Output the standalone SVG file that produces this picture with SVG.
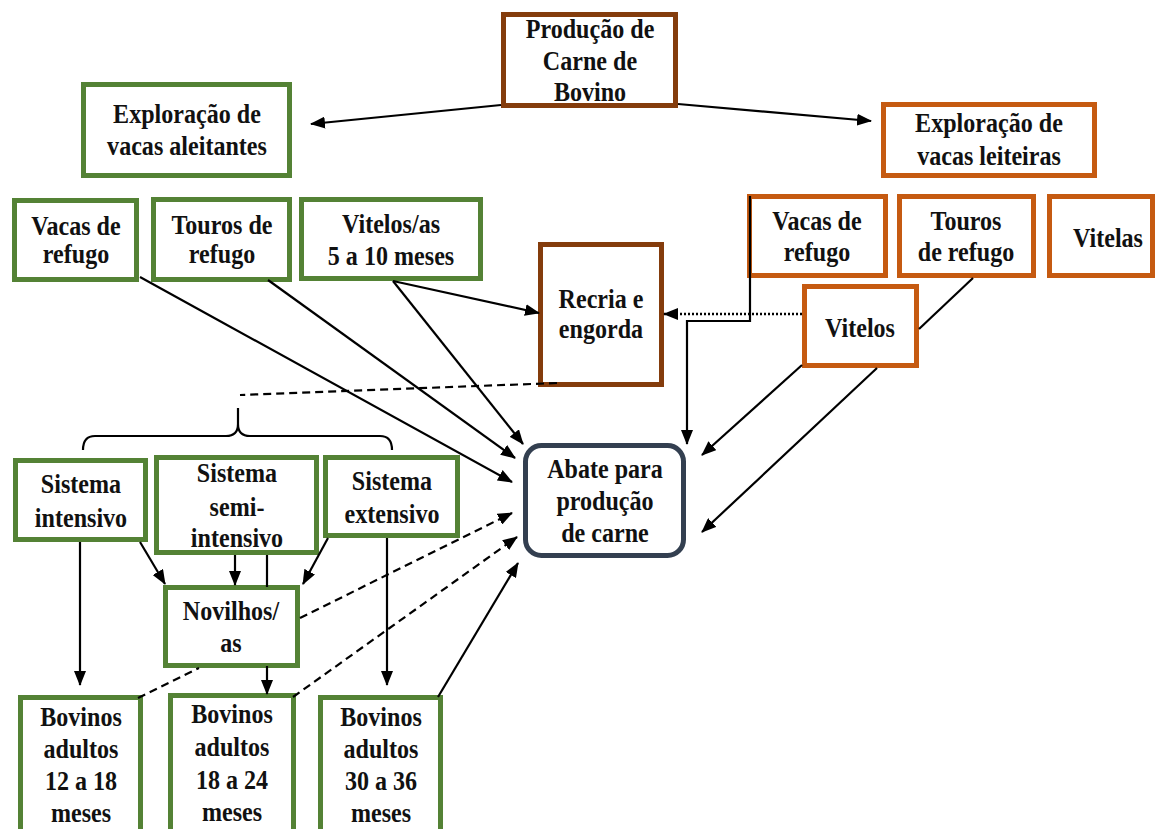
<svg xmlns="http://www.w3.org/2000/svg" width="1156" height="829" viewBox="0 0 1156 829">
<style>
.box{fill:#fff;stroke-width:5}
.g{stroke:#548235}
.o{stroke:#C55A11}
.b{stroke:#843C0C}
.s{stroke:#333F50}
.t{font-family:"Liberation Serif","Times New Roman",serif;font-weight:bold;font-size:28px;text-anchor:middle;fill:#111}
.c{stroke:#000;stroke-width:2.2;fill:none}
.a{marker-end:url(#ah)}
.d{stroke-dasharray:8 5}
.dot{stroke-dasharray:2 2;stroke-width:2.6}
</style>
<defs>
<marker id="ah" markerUnits="userSpaceOnUse" markerWidth="15" markerHeight="12" refX="14" refY="6" orient="auto">
<path d="M0,0 L15,6 L0,12 Z" fill="#000"/>
</marker>
</defs>
<rect width="1156" height="829" fill="#fff"/>

<g id="producao"><rect class="box b" x="503.5" y="14.5" width="172" height="91"/>
<text class="t" transform="translate(590 0) scale(0.86 1)"><tspan x="0" y="38">Produção de</tspan><tspan x="0" y="70">Carne de</tspan><tspan x="0" y="101">Bovino</tspan></text></g>

<g id="aleitantes"><rect class="box g" x="83.5" y="84.5" width="206" height="91"/>
<text class="t" transform="translate(187 0) scale(0.86 1)"><tspan x="0" y="123">Exploração de</tspan><tspan x="0" y="155">vacas aleitantes</tspan></text></g>

<g id="leiteiras"><rect class="box o" x="883.5" y="104.5" width="211" height="71"/>
<text class="t" transform="translate(989 0) scale(0.86 1)"><tspan x="0" y="132">Exploração de</tspan><tspan x="0" y="165">vacas leiteiras</tspan></text></g>

<g id="vacas-g"><rect class="box g" x="14.5" y="200.5" width="122" height="79"/>
<text class="t" transform="translate(76 0) scale(0.86 1)"><tspan x="0" y="235">Vacas de</tspan><tspan x="0" y="263">refugo</tspan></text></g>

<g id="touros-g"><rect class="box g" x="153.5" y="199.5" width="136" height="80"/>
<text class="t" transform="translate(222 0) scale(0.86 1)"><tspan x="0" y="234">Touros de</tspan><tspan x="0" y="263">refugo</tspan></text></g>

<g id="vitelosas"><rect class="box g" x="301.5" y="199.5" width="179" height="79"/>
<text class="t" transform="translate(391 0) scale(0.86 1)"><tspan x="0" y="233">Vitelos/as</tspan><tspan x="0" y="265">5 a 10 meses</tspan></text></g>

<g id="vacas-o"><rect class="box o" x="749.5" y="196.5" width="136" height="79"/>
<text class="t" transform="translate(817 0) scale(0.86 1)"><tspan x="0" y="230">Vacas de</tspan><tspan x="0" y="261">refugo</tspan></text></g>

<g id="touros-o"><rect class="box o" x="899.5" y="196.5" width="134" height="79"/>
<text class="t" transform="translate(966 0) scale(0.86 1)"><tspan x="0" y="230">Touros</tspan><tspan x="0" y="261">de refugo</tspan></text></g>

<g id="vitelas"><rect class="box o" x="1049.5" y="196.5" width="103" height="79"/>
<text class="t" transform="translate(1108 0) scale(0.86 1)"><tspan x="0" y="247">Vitelas</tspan></text></g>

<g id="vitelos"><rect class="box o" x="804.5" y="286.5" width="112" height="79"/>
<text class="t" transform="translate(860 0) scale(0.86 1)"><tspan x="0" y="337">Vitelos</tspan></text></g>

<g id="recria"><rect class="box b" x="540.5" y="244.5" width="121" height="140"/>
<text class="t" transform="translate(601 0) scale(0.86 1)"><tspan x="0" y="308">Recria e</tspan><tspan x="0" y="338">engorda</tspan></text></g>

<g id="abate"><rect class="box s" x="525.5" y="445.5" width="158" height="110" rx="16"/>
<text class="t" transform="translate(605 0) scale(0.86 1)"><tspan x="0" y="478">Abate para</tspan><tspan x="0" y="510">produção</tspan><tspan x="0" y="542">de carne</tspan></text></g>

<g id="intensivo"><rect class="box g" x="15.5" y="460.5" width="130" height="79"/>
<text class="t" transform="translate(81 0) scale(0.86 1)"><tspan x="0" y="493">Sistema</tspan><tspan x="0" y="527">intensivo</tspan></text></g>

<g id="semi"><rect class="box g" x="156.5" y="457.5" width="160" height="95"/>
<text class="t" transform="translate(237 0) scale(0.86 1)"><tspan x="0" y="482">Sistema</tspan><tspan x="0" y="516">semi-</tspan><tspan x="0" y="547">intensivo</tspan></text></g>

<g id="extensivo"><rect class="box g" x="325.5" y="457.5" width="132" height="78"/>
<text class="t" transform="translate(392 0) scale(0.86 1)"><tspan x="0" y="490">Sistema</tspan><tspan x="0" y="523">extensivo</tspan></text></g>

<g id="novilhos"><rect class="box g" x="165.5" y="587.5" width="132" height="78"/>
<text class="t" transform="translate(231 0) scale(0.86 1)"><tspan x="0" y="620">Novilhos/</tspan><tspan x="0" y="652">as</tspan></text></g>

<g id="bov1"><rect class="box g" x="20.5" y="697.5" width="120" height="140"/>
<text class="t" transform="translate(81 0) scale(0.86 1)"><tspan x="0" y="726">Bovinos</tspan><tspan x="0" y="758">adultos</tspan><tspan x="0" y="790">12 a 18</tspan><tspan x="0" y="822">meses</tspan></text></g>

<g id="bov2"><rect class="box g" x="170.5" y="695.5" width="123" height="140"/>
<text class="t" transform="translate(232 0) scale(0.86 1)"><tspan x="0" y="723">Bovinos</tspan><tspan x="0" y="756">adultos</tspan><tspan x="0" y="789">18 a 24</tspan><tspan x="0" y="821">meses</tspan></text></g>

<g id="bov3"><rect class="box g" x="320.5" y="697.5" width="120" height="140"/>
<text class="t" transform="translate(381 0) scale(0.86 1)"><tspan x="0" y="726">Bovinos</tspan><tspan x="0" y="758">adultos</tspan><tspan x="0" y="790">30 a 36</tspan><tspan x="0" y="822">meses</tspan></text></g>

<g id="connectors">
<path class="c a" d="M501,105 L311,124"/>
<path class="c a" d="M678,104 L871,121"/>
<path class="c a" d="M140,277 L512,482"/>
<path class="c a" d="M268,280 L515,458"/>
<path class="c a" d="M393,281 L523,444"/>
<path class="c a" d="M393,281 L539,313"/>
<path class="c d" d="M557,383 L240,395"/>
<path class="c" d="M83,450 Q83,436 95,436 L226,436 Q238,436 238,424 L238,408 M238,424 Q238,436 250,436 L380,436 Q392,436 392,450"/>
<path class="c dot a" d="M802,314 L664,314"/>
<path class="c a" d="M750,196 L750,321 L687,321 L687,444"/>
<path class="c a" d="M802,365 L702,455"/>
<path class="c" d="M973,278 L919,329"/>
<path class="c a" d="M877,368 L702,532"/>
<path class="c a" d="M80,542 L80,685"/>
<path class="c a" d="M140,542 L165,584"/>
<path class="c a" d="M235,555 L235,585"/>
<path class="c" d="M267,555 L267,587"/>
<path class="c a" d="M267,666 L267,694"/>
<path class="c a" d="M328,538 L303,584"/>
<path class="c a" d="M387,538 L387,685"/>
<path class="c d" d="M138,698 L199,668"/>
<path class="c d a" d="M300,618 L512,513"/>
<path class="c d a" d="M293,697 L517,537"/>
<path class="c a" d="M438,697 L518,563"/>
</g>
</svg>
